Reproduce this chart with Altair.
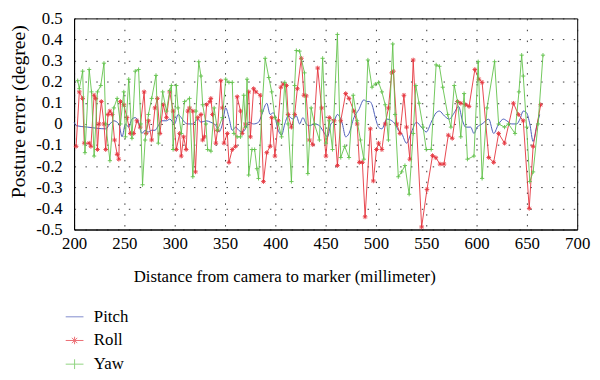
import altair as alt
import pandas as pd

# ---- data (distance mm, error degree) ----
pitch_points = [
    (200, 0.008), (202, -0.008), (213.4, -0.015), (231.4, -0.023), (235.6, 0.0), (239.5, 0.015),
    (244.4, 0.0), (247.7, -0.061), (251.0, 0.0), (254.3, -0.015), (257.5, 0.023), (260.8, 0.03),
    (264.1, 0.008), (267.3, -0.045), (270.6, -0.03), (273.9, -0.038), (277.1, -0.03), (280.4, -0.03),
    (283.7, -0.008), (286.9, 0.015), (291.8, 0.015), (295.1, 0.023), (300.0, 0.0), (303.3, 0.045),
    (306.5, 0.03), (309.8, 0.008), (313.1, 0.0), (318.0, 0.0), (322.9, 0.023), (326.1, 0.008),
    (331.0, 0.015), (335.9, 0.008), (340.9, -0.008), (344.1, -0.038), (347.4, 0.0), (350.7, 0.076),
    (353.9, 0.03), (357.2, -0.03), (360.5, -0.015), (363.7, -0.03), (367.0, -0.038), (370.3, -0.023),
    (373.5, 0.008), (378.4, 0.0), (383.3, 0.008), (386.6, 0.045), (391.5, 0.098), (394.8, 0.045),
    (398.0, 0.053), (402.9, -0.03), (406.2, -0.053), (409.4, 0.0), (412.7, 0.038), (417.6, 0.023),
    (420.9, 0.038), (424.1, 0.0), (427.4, 0.03), (430.7, 0.0), (433.9, -0.008), (438.9, 0.0),
    (443.8, -0.008), (447.0, -0.03), (451.9, -0.061), (455.2, 0.0), (458.5, 0.015), (461.7, 0.045),
    (466.6, 0.0), (469.9, -0.061), (473.2, -0.045), (478.1, 0.03), (483.0, 0.068), (487.9, 0.114),
    (491.1, 0.106), (493.8, 0.106), (496.1, 0.091), (499.4, 0.03), (502.6, -0.015), (505.9, -0.023),
    (510.8, 0.023), (515.7, 0.015), (519.0, 0.0), (522.2, -0.03), (525.5, -0.045), (530.4, -0.091),
    (535.3, -0.038), (540.2, 0.008), (545.1, -0.015), (550.0, -0.038), (554.9, 0.008), (559.8, 0.053),
    (563.1, 0.061), (568.0, 0.038), (572.9, 0.023), (577.8, 0.053), (582.1, 0.083), (586.0, 0.015),
    (589.2, -0.015), (594.1, -0.015), (597.4, -0.045), (600.6, -0.015), (605.5, 0.0), (612.1, 0.023),
    (617.0, -0.045), (621.9, 0.0), (626.8, 0.023), (630.0, 0.015), (635.0, 0.0), (639.9, 0.0),
    (643.1, 0.023), (646.4, 0.061), (649.7, 0.053), (652.9, 0.0), (656.2, -0.083), (659.5, -0.015),
    (662.7, 0.045),
]

roll_points = [
    (202.0, -0.106), (205.2, 0.152), (208.5, 0.121), (210.1, -0.091), (215.0, -0.091), (216.7, -0.106),
    (219.9, 0.136), (221.6, 0.121), (223.2, -0.121), (224.8, 0.0), (227.1, 0.106), (229.7, 0.0),
    (231.4, -0.121), (233.7, 0.045), (235.6, 0.061), (237.9, 0.045), (240.2, -0.076), (242.8, -0.144),
    (244.4, -0.167), (246.1, 0.106), (249.4, 0.091), (252.6, 0.03), (255.9, -0.045), (259.2, -0.045),
    (262.4, 0.015), (265.7, -0.015), (269.6, 0.152), (271.6, -0.045), (273.9, 0.015), (277.1, -0.076),
    (280.4, 0.076), (282.7, 0.121), (285.3, -0.045), (288.6, 0.091), (291.8, 0.03), (295.1, 0.152),
    (298.4, 0.061), (301.6, -0.121), (304.9, -0.045), (306.5, -0.152), (308.8, -0.061), (311.4, -0.121),
    (313.1, 0.061), (314.7, 0.076), (318.0, 0.061), (320.6, -0.227), (322.9, 0.03), (326.1, 0.045),
    (327.8, -0.076), (329.4, -0.061), (331.7, 0.091), (335.0, 0.106), (335.9, 0.121), (337.6, 0.045),
    (340.9, -0.091), (342.5, -0.03), (345.8, 0.205), (347.4, 0.076), (349.0, -0.091), (352.3, -0.045),
    (353.9, -0.182), (357.2, -0.121), (360.5, -0.106), (362.1, 0.129), (365.4, 0.061), (367.0, -0.045),
    (370.3, 0.0), (373.5, 0.152), (375.2, -0.061), (378.4, 0.167), (380.7, 0.152), (385.0, 0.136),
    (388.2, -0.273), (391.5, -0.136), (394.8, -0.106), (396.4, 0.03), (399.6, -0.152), (402.9, 0.015),
    (405.5, 0.174), (407.8, 0.189), (411.1, 0.182), (412.7, 0.045), (416.0, -0.015), (419.2, 0.045),
    (421.9, 0.167), (425.8, 0.311), (428.4, 0.136), (430.7, 0.133), (433.9, -0.076), (437.2, -0.098),
    (442.1, 0.265), (446.0, 0.076), (450.3, -0.152), (453.6, 0.03), (458.5, 0.015), (461.7, -0.197),
    (465.0, 0.015), (469.9, 0.144), (473.2, 0.121), (478.1, 0.061), (481.3, 0.0), (483.5, -0.182),
    (486.5, -0.182), (489.2, -0.44), (494.4, -0.023), (497.4, -0.27), (500.5, -0.121), (502.6, -0.091),
    (505.9, -0.121), (509.2, 0.0), (512.4, 0.076), (515.7, 0.242), (517.3, 0.25), (520.6, 0.0),
    (523.9, -0.045), (527.8, 0.136), (530.4, -0.015), (533.7, -0.167), (537.0, 0.303), (545.4, -0.488),
    (550.7, -0.31), (556.2, -0.15), (559.5, -0.16), (563.7, -0.19), (567.6, -0.19), (571.9, -0.053),
    (575.8, -0.068), (581.1, 0.106), (584.3, 0.098), (589.2, 0.091), (592.5, 0.083), (598.3, 0.258),
    (602.3, 0.212), (605.5, 0.197), (612.1, -0.159), (617.0, -0.182), (621.9, -0.045), (627.8, -0.091),
    (636.6, 0.098), (641.5, 0.045), (646.4, 0.015), (652.3, -0.40), (656.2, -0.106), (663.7, 0.091),
]

yaw_points = [
    (203.6, 0.205), (205.2, 0.167), (208.5, 0.25), (210.8, -0.136), (215.0, 0.258), (217.3, 0.152),
    (219.9, -0.152), (223.2, 0.152), (226.5, 0.182), (229.7, 0.288), (231.4, 0.0), (235.6, -0.174),
    (239.5, 0.076), (242.8, 0.121), (246.1, 0.0), (249.4, 0.152), (251.0, -0.061), (254.3, 0.212),
    (257.5, -0.068), (260.8, 0.25), (264.1, 0.258), (266.3, 0.0), (268.0, -0.288), (270.6, -0.076),
    (273.9, 0.045), (277.1, 0.121), (281.4, 0.23), (283.7, -0.091), (288.0, 0.152), (291.8, 0.061),
    (295.1, 0.159), (296.7, 0.182), (298.4, -0.121), (301.6, 0.182), (303.3, 0.076), (306.5, -0.045),
    (309.8, 0.106), (314.7, 0.121), (318.0, -0.25), (321.2, 0.061), (323.9, 0.295), (326.1, 0.227),
    (327.8, 0.091), (331.0, 0.0), (332.7, -0.121), (336.0, -0.129), (339.2, 0.076), (342.5, -0.03),
    (347.4, 0.03), (350.7, 0.212), (353.9, 0.197), (357.2, 0.197), (358.8, -0.045), (362.1, -0.061),
    (365.4, -0.061), (368.6, 0.136), (370.3, -0.015), (371.9, 0.212), (373.5, -0.242), (376.8, -0.121),
    (379.4, -0.121), (381.7, -0.212), (383.3, -0.258), (386.6, 0.061), (389.9, 0.311), (393.5, 0.22),
    (396.4, 0.152), (399.6, 0.03), (402.9, 0.0), (406.2, -0.061), (409.4, 0.197), (412.7, 0.0),
    (416.0, -0.273), (419.2, 0.182), (420.9, 0.348), (424.1, 0.345), (429.0, 0.242), (432.3, -0.235),
    (435.6, 0.076), (438.9, 0.0), (443.8, -0.076), (447.0, 0.311), (450.3, -0.091), (453.6, 0.015),
    (456.8, -0.121), (461.7, 0.424), (465.0, -0.159), (468.9, -0.106), (473.2, -0.159), (477.4, 0.136),
    (481.3, 0.015), (484.6, -0.076), (487.9, -0.167), (492.0, 0.303), (496.1, 0.174), (499.4, 0.189),
    (502.6, 0.197), (505.9, 0.152), (509.2, 0.091), (512.4, -0.076), (516.7, 0.379), (519.0, 0.045),
    (522.2, -0.25), (525.5, -0.227), (528.8, -0.197), (533.0, -0.333), (537.0, -0.045), (539.6, 0.182),
    (542.8, 0.098), (546.8, -0.015), (550.0, -0.121), (554.9, -0.121), (559.8, 0.28), (563.1, 0.273),
    (566.4, 0.174), (571.3, 0.045), (574.5, -0.015), (577.8, 0.182), (581.1, 0.106), (584.3, -0.061),
    (587.6, 0.144), (590.9, -0.167), (597.4, -0.152), (601.6, 0.295), (605.5, -0.258), (610.4, 0.076),
    (617.9, 0.295), (621.9, 0.0), (627.8, -0.015), (631.7, 0.0), (638.2, -0.045), (642.1, 0.152),
    (644.8, 0.326), (646.4, 0.227), (649.7, -0.015), (652.9, -0.273), (656.2, -0.227), (661.1, 0.0),
    (666.0, 0.326),
]

series_names = ["Pitch", "Roll", "Yaw"]
series_colors = ["#4a5bb8", "#e5323b", "#62c24b"]
x_ticks = [200, 250, 300, 350, 400, 450, 500, 550, 600, 650, 700]
y_ticks = [-0.5, -0.4, -0.3, -0.2, -0.1, 0, 0.1, 0.2, 0.3, 0.4, 0.5]

FONT = "Liberation Serif"
STAR = "M-1,0L1,0M0,-1L0,1M-0.7,-0.7L0.7,0.7M-0.7,0.7L0.7,-0.7"
PLUS = "M-1,0L1,0M0,-1L0,1"
legend_shapes = [
    "M-1,0L1,0",
    "M-1,0L1,0M0,-0.42L0,0.42M-0.3,-0.3L0.3,0.3M-0.3,0.3L0.3,-0.3",
    "M-1,0L1,0M0,-0.55L0,0.55",
]


def frame(points, name):
    return pd.DataFrame({"x": [p[0] for p in points],
                         "y": [p[1] for p in points],
                         "series": name})


df_pitch = frame(pitch_points, "Pitch")
df_roll = frame(roll_points, "Roll")
df_yaw = frame(yaw_points, "Yaw")
df_legend = pd.DataFrame({"series": series_names, "x": [150, 150, 150], "y": [0, 0, 0]})

x_scale = alt.Scale(domain=[200, 700], nice=False, zero=False)
y_scale = alt.Scale(domain=[-0.5, 0.5], nice=False, zero=False)
color_scale = alt.Scale(domain=series_names, range=series_colors)

x_enc = alt.X("x:Q", scale=x_scale, axis=alt.Axis(
    values=x_ticks, format="d", title="Distance from camera to marker (millimeter)",
    titleX=213, titleY=48, titleBaseline="middle", titleAlign="center", titleFontSize=17,
    labelPadding=6, labelFlush=False))
y_enc = alt.Y("y:Q", scale=y_scale, axis=alt.Axis(
    values=y_ticks, title="Posture error (degree)",
    labelExpr="datum.value == 0 ? '0' : replace(format(datum.value, '.1f'), '\u2212', '-')",
    titleX=-56, titleY=94, titleAngle=270, titleAlign="center", titleBaseline="middle",
    titleFontSize=20, labelPadding=12))

pitch_line = alt.Chart(df_pitch).mark_line(color=series_colors[0], strokeWidth=1,
                                           interpolate="monotone").encode(x=x_enc, y=y_enc)
roll_line = alt.Chart(df_roll).mark_line(color=series_colors[1], strokeWidth=1,
                                         opacity=0.9).encode(x=x_enc, y=y_enc)
roll_pts = alt.Chart(df_roll).mark_point(shape=STAR, filled=False, size=22, strokeWidth=1,
                                         color=series_colors[1], opacity=0.9).encode(x=x_enc, y=y_enc)
yaw_line = alt.Chart(df_yaw).mark_line(color=series_colors[2], strokeWidth=1,
                                       opacity=0.9).encode(x=x_enc, y=y_enc)
yaw_pts = alt.Chart(df_yaw).mark_point(shape=PLUS, filled=False, size=18, strokeWidth=1,
                                       color=series_colors[2], opacity=0.9).encode(x=x_enc, y=y_enc)

legend_def = alt.Legend(title=None, orient="none", legendX=-9, legendY=293,
                        labelFont=FONT, labelFontSize=17, labelColor="black",
                        symbolSize=324, symbolStrokeWidth=1, rowPadding=6, labelOffset=10,
                        padding=0)
legend_layer = alt.Chart(df_legend).mark_point(filled=False, clip=True, strokeWidth=1).encode(
    x=x_enc, y=y_enc,
    color=alt.Color("series:N", scale=color_scale, legend=legend_def),
    shape=alt.Shape("series:N", scale=alt.Scale(domain=series_names, range=legend_shapes),
                    legend=legend_def),
)

chart = alt.layer(pitch_line, roll_line, roll_pts, yaw_line, yaw_pts, legend_layer).properties(
    width=510, height=214,
    autosize=alt.AutoSizeParams(type="none"),
    padding={"left": 67, "top": 8, "right": 15, "bottom": 150},
    background="white",
).configure_view(
    stroke="black", strokeWidth=1
).configure_axis(
    labelFont=FONT, titleFont=FONT, labelFontSize=17, titleFontSize=17,
    labelColor="black", titleColor="black", titleFontWeight="normal",
    domainColor="black", domainWidth=1, ticks=False,
    grid=True, gridColor="#222222", gridDash=[1.5, 9.5], gridWidth=1, gridOpacity=0.9,
)

chart.save("out.html", embed_options={"renderer": "svg", "actions": False})
